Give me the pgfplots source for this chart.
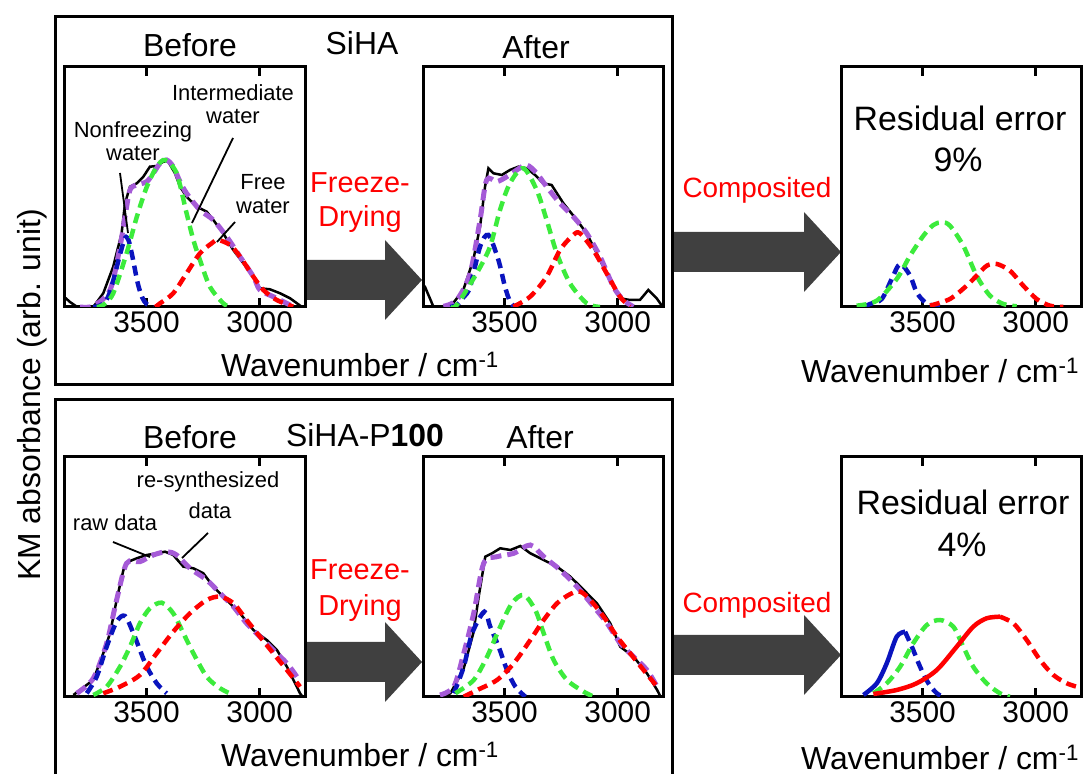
\documentclass[border=0pt]{standalone}
\usepackage{pgfplots}
\pgfplotsset{compat=1.18}
\usepackage{fontspec}
\setmainfont{Liberation Sans}
\newcommand\fs[1]{\fontsize{#1}{#1}\selectfont}
\definecolor{cblue}{RGB}{10,20,190}
\definecolor{cgreen}{RGB}{60,235,60}
\definecolor{cred}{RGB}{255,0,0}
\definecolor{cpurp}{RGB}{165,90,215}
\definecolor{arrowgray}{RGB}{64,64,64}
\pgfplotsset{
  panel/.style={scale only axis, width=240bp, height=240bp, anchor=south west,
    xmin=2800, xmax=3860, x dir=reverse, ymin=0, ymax=240,
    xtick={3000,3500}, xticklabels={3000,3500}, ytick=\empty,
    tick align=inside, major tick length=9bp,
    axis line style={line width=3bp},
    every tick/.style={line width=3bp, black},
    xticklabel style={font=\fs{30}, inner sep=2bp, yshift=-2bp},
  },
  raw/.style={black, line width=2.5bp, no marks},
  syn/.style={cpurp, line width=5bp, dash pattern=on 11bp off 6bp, no marks, smooth},
  comp/.style={line width=4.5bp, dash pattern=on 10bp off 6bp, no marks, smooth},
}
\begin{document}
\begin{tikzpicture}[x=1bp,y=1bp]
\useasboundingbox (0,0) rectangle (1091,774);
% frames
\draw[line width=3bp] (55,757) rectangle (672,389);
\draw[line width=3bp] (55,374) rectangle (672,-10);
% arrows
\fill[arrowgray] (305,514) -- (385,514) -- (385,534) -- (422,494) -- (385,454) -- (385,474) -- (305,474) -- cycle;
\fill[arrowgray] (674,542) -- (804,542) -- (804,562) -- (841,522) -- (804,482) -- (804,502) -- (674,502) -- cycle;
\fill[arrowgray] (305,132) -- (385,132) -- (385,152) -- (422,112) -- (385,72) -- (385,92) -- (305,92) -- cycle;
\fill[arrowgray] (674,139) -- (804,139) -- (804,159) -- (841,119) -- (804,79) -- (804,99) -- (674,99) -- cycle;

% ---------- Panel 1 ----------
\begin{axis}[panel, at={(65bp,467bp)}]
\addplot[raw] coordinates {(3858,9)(3838,5)(3808,0.3)(3735,0)(3691,13.7)(3647,40.3)(3610,73.7)(3595,103.7)(3573,120.3)(3543,123.7)(3514,130.3)(3485,140.3)(3455,141)(3426,145.3)(3404,145.3)(3374,133.7)(3352,120.3)(3323,110.3)(3278,100.3)(3234,95.3)(3205,87)(3161,73.7)(3117,57)(3072,43.7)(3028,30.3)(2999,18.7)(2955,17.7)(2910,13.7)(2866,8.7)(2815,0.3)};
\addplot[syn] coordinates {(3794,0)(3735,1)(3661,17)(3617,60.3)(3595,90.3)(3573,117)(3543,122)(3499,125.3)(3470,133.7)(3440,143.7)(3411,147)(3382,140.3)(3352,125.3)(3323,113.7)(3264,97)(3205,87)(3146,70.3)(3087,50.3)(3028,30.3)(2999,17)(2940,10.3)(2881,3.7)(2852,0.3)};
\addplot[comp, cblue] coordinates {(3735,0)(3700,2)(3670,10)(3645,28)(3620,50)(3600,66)(3590,70)(3578,66)(3560,48)(3540,25)(3520,10)(3500,3)(3470,0)};
\addplot[comp, cgreen] coordinates {(3720,0)(3691,2)(3647,13.7)(3588,53.7)(3543,90)(3499,120)(3455,140)(3418,147)(3367,133.7)(3323,93.7)(3293,67)(3264,47)(3220,20.3)(3161,3.7)(3131,0)};
\addplot[comp, cred] coordinates {(3461,0)(3440,3.7)(3382,13.7)(3323,33.7)(3264,53.7)(3212,63.7)(3185,67)(3131,62)(3087,50.3)(3028,30.3)(2984,17)(2925,7)(2852,0.3)};
\end{axis}

% ---------- Panel 2 ----------
\begin{axis}[panel, at={(423bp,467bp)}]
\addplot[raw] coordinates {(3858,22)(3851,20)(3814,0.3)(3740,0)(3682,17)(3638,47)(3608,80.3)(3586,120.3)(3571,138.7)(3549,133.7)(3512,132)(3476,137)(3439,140.3)(3402,138.7)(3365,132)(3329,123.7)(3292,122)(3240,103.7)(3181,87)(3137,73.7)(3093,53.7)(3049,33.7)(3004,13.7)(2990,8.7)(2946,7)(2902,7)(2865,17)(2828,8.7)(2801,0)};
\addplot[syn] coordinates {(3770,0.7)(3711,7)(3652,33.7)(3608,87)(3579,127)(3534,125.3)(3490,130.3)(3446,137)(3402,142)(3358,133.7)(3314,120.3)(3255,103.7)(3196,90.3)(3137,73.7)(3078,50.3)(3019,20.3)(2975,7)(2931,0.3)};
\addplot[comp, cblue] coordinates {(3740,0)(3711,2)(3680,10)(3652,20)(3608,60.3)(3571,72)(3527,47)(3498,20.3)(3475,5)(3454,0)};
\addplot[comp, cgreen] coordinates {(3740,0)(3711,2)(3623,33.7)(3564,60.3)(3520,97)(3476,123.7)(3417,138.7)(3358,117)(3314,87)(3269,53.7)(3211,23.7)(3137,3.7)(3078,0)};
\addplot[comp, cred] coordinates {(3461,0.3)(3387,10.3)(3314,30.3)(3255,57)(3196,72)(3167,73.7)(3108,57)(3049,33.7)(2990,10.3)(2946,0.3)};
\end{axis}

% ---------- Panel 3 ----------
\begin{axis}[panel, at={(841bp,467bp)}]
\addplot[comp, cblue] coordinates {(3760,0)(3732,3)(3680,8)(3636,28)(3599,43)(3555,31.3)(3526,14.7)(3489,4.7)(3452,1.3)(3420,0)};
\addplot[comp, cgreen] coordinates {(3791,1.3)(3702,6.3)(3614,28)(3555,51.3)(3496,71.3)(3452,82)(3415,84.7)(3379,81.3)(3320,61.3)(3261,31.3)(3202,11.3)(3143,3)(3084,0.7)};
\addplot[comp, cred] coordinates {(3467,1.3)(3379,8)(3305,21.3)(3261,31.3)(3216,41.3)(3172,43)(3114,36.3)(3055,21.3)(2996,8)(2937,1.3)(2878,0)};
\end{axis}

% ---------- Panel 4 ----------
\begin{axis}[panel, at={(65bp,77bp)}]
\addplot[raw] coordinates {(3823,2)(3735,17)(3691,43.7)(3661,63.7)(3632,97)(3602,127)(3580,135.3)(3543,138.7)(3499,142)(3455,143.7)(3418,145.3)(3382,142)(3337,130.3)(3293,128.7)(3249,123.7)(3205,110.3)(3146,97)(3087,83.7)(3028,67)(2969,57)(2924,47)(2880,30.3)(2822,3.7)(2810,0)};
\addplot[syn] coordinates {(3808,3.7)(3735,18.7)(3676,53.7)(3632,97)(3588,133.7)(3529,135.3)(3470,142)(3411,145.3)(3367,142)(3308,128.7)(3234,117)(3175,103.7)(3116,90.3)(3058,73.7)(2999,60.3)(2940,47)(2880,33.7)(2836,20.3)};
\addplot[comp, cblue] coordinates {(3764,3.7)(3720,20.3)(3676,50.3)(3632,75.3)(3595,81)(3558,63.7)(3529,47)(3499,30.3)(3455,13.7)(3411,3.7)};
\addplot[comp, cgreen] coordinates {(3735,2)(3676,10.3)(3617,30.3)(3573,50.3)(3529,73.7)(3485,88.7)(3433,94.3)(3382,83.7)(3337,63.7)(3293,43.7)(3234,20.3)(3175,8.7)(3116,2)};
\addplot[comp, cred] coordinates {(3691,3.7)(3617,10.3)(3529,22)(3455,43.7)(3382,65.3)(3308,83.7)(3234,97)(3175,100.3)(3116,93.7)(3058,77)(2999,60.3)(2940,43.7)(2880,27)(2822,10.3)};
\end{axis}

% ---------- Panel 5 ----------
\begin{axis}[panel, at={(423bp,77bp)}]
\addplot[raw] coordinates {(3780,0)(3739,3.7)(3682,27)(3638,63.7)(3614,100.3)(3585,140.3)(3555,143.7)(3519,148.7)(3474,147)(3430,151)(3386,143.7)(3327,137)(3268,130.3)(3209,120.3)(3150,107)(3092,93.7)(3033,73.7)(2989,50.3)(2930,40.3)(2871,23.7)(2826,7)(2810,0)};
\addplot[syn] coordinates {(3785,2)(3724,10.3)(3680,43.7)(3636,83.7)(3592,133.7)(3533,140.3)(3459,143.7)(3386,152)(3327,140.3)(3254,127)(3180,110.3)(3106,90.3)(3047,73.7)(2989,53.7)(2930,40.3)(2871,27)(2826,10.3)};
\addplot[comp, cblue] coordinates {(3724,3.7)(3680,30.3)(3643,63.7)(3589,85.3)(3563,70.3)(3526,50.3)(3489,27)(3452,10.3)(3408,0.3)};
\addplot[comp, cgreen] coordinates {(3717,3.7)(3636,17)(3577,40.3)(3519,70.3)(3467,93.7)(3415,102)(3364,87)(3327,63.7)(3283,37)(3224,17)(3150,5.3)(3106,0.3)};
\addplot[comp, cred] coordinates {(3680,0.3)(3620,7)(3533,17)(3459,33.7)(3386,57)(3327,77)(3268,93.7)(3209,103)(3165,105.3)(3121,97)(3062,80.3)(3003,60.3)(2945,43.7)(2886,27)(2826,10.3)};
\end{axis}

% ---------- Panel 6 ----------
\begin{axis}[panel, at={(841bp,77bp)}]
\addplot[cblue, line width=4.5bp, smooth, no marks] coordinates {(3761,2)(3702,13.7)(3658,33.7)(3614,60.3)(3577,65.3)};
\addplot[comp, cblue] coordinates {(3577,65.3)(3541,47)(3511,30.3)(3474,13.7)(3437,3.7)(3408,0.3)};
\addplot[comp, cgreen] coordinates {(3717,3.7)(3658,13.7)(3599,30.3)(3541,53.7)(3481,72)(3423,77)(3364,70.3)(3320,50.3)(3276,30.3)(3217,13.7)(3158,3.7)(3114,0.3)};
\addplot[cred, line width=4.5bp, smooth, no marks] coordinates {(3717,3)(3614,7)(3526,13.7)(3437,27)(3349,50.3)(3276,70.3)(3217,78.7)(3158,80.3)};
\addplot[comp, cred] coordinates {(3158,80.3)(3099,73.7)(3040,57)(2981,37)(2922,22)(2863,13.7)(2819,10.3)};
\end{axis}

% ---------- Texts ----------
\node[rotate=90, font=\fs{32}] at (32,379) {KM absorbance (arb. unit)};
\node[font=\fs{32}] at (190,729) {Before};
\node[font=\fs{32}] at (362,731) {SiHA};
\node[font=\fs{32}] at (536,727) {After};
\node[font=\fs{32}] at (190,337) {Before};
\node[font=\fs{32}] at (365,339) {SiHA-P\textbf{100}};
\node[font=\fs{32}] at (540,337) {After};
\node[font=\fs{32}] at (360,410) {Wavenumber / cm\textsuperscript{-1}};
\node[font=\fs{32}] at (360,20) {Wavenumber / cm\textsuperscript{-1}};
\node[font=\fs{32}] at (940,404) {Wavenumber / cm\textsuperscript{-1}};
\node[font=\fs{32}] at (940,17) {Wavenumber / cm\textsuperscript{-1}};
% red
\node[font=\fs{29}, text=cred] at (360,591) {Freeze-};
\node[font=\fs{29}, text=cred] at (360,555) {Drying};
\node[font=\fs{29}, text=cred] at (360,204) {Freeze-};
\node[font=\fs{29}, text=cred] at (360,166) {Drying};
\node[font=\fs{28}, text=cred] at (757,584) {Composited};
\node[font=\fs{28}, text=cred] at (757,169) {Composited};
% residual
\node[font=\fs{34}] at (960,656) {Residual error};
\node[font=\fs{34}] at (958,614) {9\%};
\node[font=\fs{34}] at (963,272) {Residual error};
\node[font=\fs{34}] at (962,229) {4\%};
% annotations panel 1
\node[font=\fs{22}] at (133,642) {Nonfreezing};
\node[font=\fs{22}] at (133,620) {water};
\draw[line width=1.8bp] (120,601) -- (128,541);
\node[font=\fs{22}] at (233,681) {Intermediate};
\node[font=\fs{22}] at (233,657) {water};
\draw[line width=1.8bp] (233,636) -- (192,551);
\node[font=\fs{22}] at (263,592) {Free};
\node[font=\fs{22}] at (263,567) {water};
\draw[line width=1.8bp] (235,552) -- (217,532);
% annotations panel 4
\node[font=\fs{22}] at (208,292) {re-synthesized};
\node[font=\fs{22}] at (210,263) {data};
\node[font=\fs{22}] at (115,251) {raw data};
\draw[line width=1.8bp] (113,232) -- (150,217);
\draw[line width=1.8bp] (208,241) -- (182,216);
\end{tikzpicture}
\end{document}
